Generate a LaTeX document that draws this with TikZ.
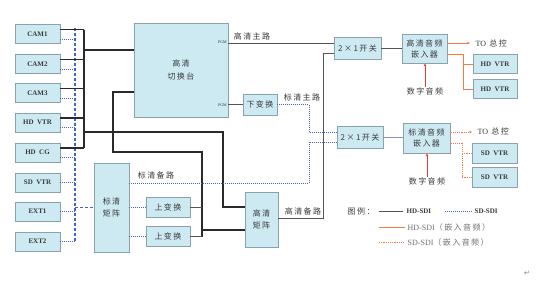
\documentclass[tikz,border=0pt]{standalone}
\usepackage{fontspec}
\setmainfont{Liberation Serif}
\newfontfamily\cjk[LetterSpace=18]{Noto Sans CJK SC}
\newfontfamily\dejavu{DejaVu Sans}
\usetikzlibrary{arrows.meta,calc}
\definecolor{boxfill}{HTML}{CDE9F2}
\definecolor{boxdraw}{HTML}{8AA2AC}
\definecolor{hdline}{HTML}{2A2A2A}
\definecolor{hdthin}{HTML}{555555}
\definecolor{sdline}{HTML}{4A62C8}
\definecolor{sdsolid}{HTML}{8A90D8}
\definecolor{orng}{HTML}{F27A45}
\definecolor{redar}{HTML}{E83838}
\definecolor{txt}{HTML}{3A3A3A}
\definecolor{lgtxt}{HTML}{707070}
\begin{document}
\begin{tikzpicture}[x=1pt,y=-1pt,
  box/.style={draw=boxdraw,fill=boxfill,line width=0.9pt,inner sep=0pt,text=txt,align=center,
    font=\cjk\fontsize{8}{11}\selectfont},
  src/.style={box,minimum width=45pt,minimum height=19pt,font=\bfseries\fontsize{7}{8}\selectfont},
  lbl/.style={inner sep=0.5pt,text=txt,font=\cjk\fontsize{8}{9}\selectfont},
  lat/.style={inner sep=0.5pt,text=txt,font=\bfseries\fontsize{7}{8}\selectfont},
  pgm/.style={inner sep=0pt,text=txt,font=\fontsize{4}{4}\selectfont},
  hd/.style={draw=hdline,line width=1.2pt},
  hdt/.style={draw=hdthin,line width=0.9pt},
  sd/.style={draw=sdline,line width=0.9pt,dash pattern=on 1pt off 1pt},
  sdbus/.style={draw=sdline,line width=1.1pt,dash pattern=on 3pt off 2pt},
  sds/.style={draw=sdsolid,line width=0.9pt},
  ors/.style={draw=orng,line width=1pt},
  ord/.style={draw=orng,line width=1pt,dash pattern=on 1.2pt off 1pt},
  arr/.style={-{Stealth[length=3pt,width=2.6pt]}},
  redarrow/.style={draw=redar,line width=0.9pt,-{Stealth[length=3pt,width=2.6pt]}}
]
\useasboundingbox (0,0) rectangle (539,285);
\fill[white] (0,0) rectangle (539,285);

% ---------- source boxes ----------
\node[src] (cam1)  at (37.5,34)    {CAM1};
\node[src] (cam2)  at (37.5,64)    {CAM2};
\node[src] (cam3)  at (37.5,93)    {CAM3};
\node[src] (hdvtr) at (37.5,122.5) {HD\ \ VTR};
\node[src] (hdcg)  at (37.5,152.5) {HD\ \ CG};
\node[src] (sdvtr) at (37.5,182.5) {SD\ \ VTR};
\node[src] (ext1)  at (37.5,211.5) {EXT1};
\node[src] (ext2)  at (37.5,241.5) {EXT2};

% ---------- main boxes ----------
\node[box,minimum width=94pt,minimum height=94pt,font=\cjk\fontsize{8}{13}\selectfont] (sw) at (181,70) {高清\\切换台};
\node[pgm,anchor=east] (pgm1) at (227,42) {PGM};
\node[pgm,anchor=east] (pgm2) at (227,105) {PGM};
\node[box,minimum width=34pt,minimum height=21pt] (dc) at (260,104.5) {下变换};
\node[box,minimum width=35pt,minimum height=89pt,font=\cjk\fontsize{8}{12}\selectfont] (sdm) at (111.5,207.5) {标清\\矩阵};
\node[box,minimum width=44pt,minimum height=20pt] (uc1) at (168,207) {上变换};
\node[box,minimum width=44pt,minimum height=20pt] (uc2) at (168,236.5) {上变换};
\node[box,minimum width=33pt,minimum height=55pt,font=\cjk\fontsize{8}{12}\selectfont] (hdm) at (261.5,219.5) {高清\\矩阵};
\node[box,minimum width=47pt,minimum height=22pt] (s1) at (357.5,48) {2×1开关};
\node[box,minimum width=46pt,minimum height=22pt] (s2) at (360,137) {2×1开关};
\node[box,minimum width=45pt,minimum height=29pt] (emb1) at (424.5,48.5) {高清音频\\嵌入器};
\node[box,minimum width=47pt,minimum height=30pt] (emb2) at (426.5,138) {标清音频\\嵌入器};
\node[src,minimum width=44pt] (hv1) at (495,64) {HD\ \ VTR};
\node[src,minimum width=44pt] (hv2) at (495,89) {HD\ \ VTR};
\node[src,minimum height=20pt] (sv1) at (494.5,153) {SD\ \ VTR};
\node[src,minimum height=20pt] (sv2) at (494.5,177.5) {SD\ \ VTR};

% ---------- labels ----------
\node[lbl] (l1) at (252,36) {高清主路};
\node[lbl] (l2) at (302,97) {标清主路};
\node[lbl] (l3) at (156,175) {标清备路};
\node[lbl] (l4) at (303,211) {高清备路};
\node[lbl,anchor=west] (to1) at (475,43) {{\fontspec{Liberation Serif}TO} 总控};
\node[lbl,anchor=west] (to2) at (477,131.5) {{\fontspec{Liberation Serif}TO} 总控};
\node[lbl] (dig1) at (425,91) {数字音频};
\node[lbl] (dig2) at (427,181) {数字音频};

% ---------- coordinates ----------
\coordinate (hb)  at (84,0);
\coordinate (sb)  at (75,0);
\coordinate (c2a) at (113,152);
\coordinate (c2b) at (202,152);
\coordinate (c3)  at (223,132);
\coordinate (sdj) at (309,0);
\coordinate (hbj) at (323,0);
\coordinate (oj1) at (463,0);
\coordinate (oj2) at (462,0);

% ---------- SD-SDI bus (blue) ----------
\foreach \n in {cam1,cam2,cam3,hdvtr,hdcg}
  \draw[sd] ([yshift=-5pt]\n.east) -- ([yshift=-5pt]\n.east -| sb);
\foreach \n in {sdvtr,ext1,ext2}
  \draw[sd] (\n.east) -- (\n.east -| sb);
\draw[sdbus] ([yshift=6pt]cam1.east -| sb) -- (ext2.east -| sb);
\draw[sdbus] (sb |- sdm.west) -- (sdm.west);

% ---------- HD-SDI bus (black) ----------
\foreach \n in {cam1,cam2,cam3,hdvtr,hdcg}
  \draw[hd] ([yshift=4.5pt]\n.east) -- ([yshift=4.5pt]\n.east -| hb);
\draw[hd] ([yshift=4.5pt]cam1.east -| hb) -- ([yshift=4.5pt]hdcg.east -| hb);
\draw[hd] ([yshift=20pt]sw.west -| hb) -- ([yshift=20pt]sw.west);
\draw[hd] ([yshift=-22pt]sw.west) -| (c2a) -- (c2b) -- (c2b |- uc2.east);
\draw[hd] (hb |- c3) -- (c3) |- ([yshift=12.5pt]hdm.west);
\draw[hd] ([yshift=-10.5pt]hdm.west -| c2b) -- ([yshift=-10.5pt]hdm.west);
\draw[hdt] (uc1.east) -- (uc1.east -| c2b);
\draw[hdt] (uc2.east) -- (uc2.east -| c2b);

% ---------- SD matrix outputs ----------
\draw[sd] (sdm.east |- uc1.west) -- (uc1.west);
\draw[sd] (sdm.east |- uc2.west) -- (uc2.west);
\draw[sd] ([yshift=24.5pt]sdm.east) -| ([yshift=-5pt]s2.west -| sdj) -- ([yshift=-5pt]s2.west);

% ---------- switcher outputs ----------
\draw[hdt] ([yshift=27pt]sw.east) -- ([yshift=27pt]sw.east -| s1.west);
\draw[hdt] (sw.east |- dc.west) -- (dc.west);
\draw[sd] (dc.east) -| ([yshift=5pt]s2.west -| sdj) -- ([yshift=5pt]s2.west);
\draw[hdt] ([yshift=1.5pt]hdm.east) -| ([yshift=-5pt]s1.west -| hbj) -- ([yshift=-5pt]s1.west);

% ---------- to embedders ----------
\draw[hdt] (s1.east) -- (s1.east -| emb1.west);
\draw[sds] (s2.east) -- (s2.east -| emb2.west);

% ---------- HD embedder outputs ----------
\draw[ors,arr] ([yshift=5.5pt]emb1.east) -- ([yshift=5.5pt]emb1.east -| 470,0);
\draw[ors] ([yshift=-5.5pt]emb1.east) -| (oj1 |- hv2.west) -- (hv2.west);
\draw[ors] (oj1 |- hv1.west) -- (hv1.west);
\draw[redarrow] (dig1.north) -- (dig1.north |- emb1.south);

% ---------- SD embedder outputs ----------
\draw[ord,arr] ([yshift=6pt]emb2.east) -- ([yshift=6pt]emb2.east -| 472,0);
\draw[ord] ([yshift=-5pt]emb2.east) -| (oj2 |- sv2.west) -- (sv2.west);
\draw[ord] (oj2 |- sv1.west) -- (sv1.west);
\draw[redarrow] (dig2.north) -- (dig2.north |- emb2.south);

% ---------- legend ----------
\node[lbl,anchor=west] (lg) at (347,211) {图例：};
\coordinate (la1) at (379,211); \coordinate (lb1) at (403,211);
\coordinate (la2) at (445,211); \coordinate (lb2) at (472,211);
\coordinate (la3) at (379,227); \coordinate (lb3) at (405,227);
\coordinate (la4) at (379,242); \coordinate (lb4) at (405,242);
\draw[hdt] (la1) -- (lb1);
\node[lat,anchor=west] (lt1) at (406,211) {HD-SDI};
\draw[sd] (la2) -- (lb2);
\node[lat,anchor=west] (lt2) at (474,211) {SD-SDI};
\draw[ors] (la3) -- (lb3);
\node[lbl,anchor=west,text=lgtxt] (lt3) at (407,227) {{\fontspec{Liberation Serif}HD-SDI}（嵌入音频）};
\draw[ord] (la4) -- (lb4);
\node[lbl,anchor=west,text=lgtxt] (lt4) at (407,242) {{\fontspec{Liberation Serif}SD-SDI}（嵌入音频）};

\node[inner sep=0pt,text=gray,font=\dejavu\fontsize{7}{7}\selectfont] (pm) at (527,273) {↵};
\end{tikzpicture}
\end{document}
